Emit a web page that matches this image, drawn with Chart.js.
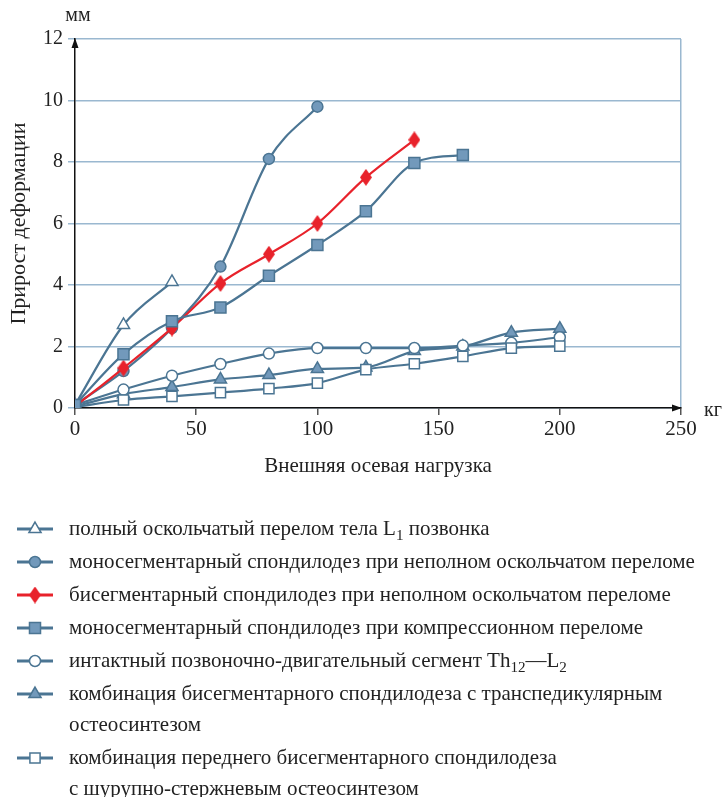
<!DOCTYPE html>
<html>
<head>
<meta charset="utf-8">
<script src="https://cdn.jsdelivr.net/npm/chart.js@4.4.1/dist/chart.umd.min.js"></script>
<style>
    body { margin: 0; background: #fff; font-family: "Liberation Serif", serif; color: #222; }
    #wrap { position: relative; width: 725px; height: 797px; }
    #chart { position: absolute; left: 0; top: 0; }
    #legend { position: absolute; left: 0; top: 513px; width: 725px; }
    .item { display: flex; align-items: flex-start; font-size: 21px; line-height: 31px; margin-bottom: 2px; white-space: nowrap; }
    .item canvas { flex: none; margin: 0 14px 0 15px; }
    sub { font-size: 0.72em; line-height: 0; vertical-align: -0.3em; }
</style>
</head>
<body>
<div id="wrap">
    <canvas id="chart" width="725" height="500"></canvas>
    <div id="legend"></div>
</div>
<script>
// нагрузка, кг
const loadKg = [0, 20, 40, 60, 80, 100, 120, 140, 160, 180, 200];

// прирост деформации, мм
const fullFracture = [0.1, 2.7, 4.1];
const monoIncomplete = [0.1, 1.2, 2.6, 4.6, 8.1, 9.8];
const biIncomplete = [0.05, 1.3, 2.6, 4.05, 5.0, 6.0, 7.5, 8.72];
const monoCompression = [0.1, 1.75, 2.82, 3.27, 4.3, 5.3, 6.4, 7.97, 8.23];
const intact = [0.1, 0.6, 1.05, 1.43, 1.77, 1.95, 1.95, 1.95, 2.03, 2.12, 2.3];
const biTranspedicular = [0.05, 0.45, 0.68, 0.93, 1.07, 1.27, 1.32, 1.85, 2.0, 2.45, 2.58];
const biScrewRod = [0.03, 0.26, 0.38, 0.5, 0.63, 0.81, 1.25, 1.44, 1.68, 1.95, 2.01];

const seriesLabels = [
    "полный оскольчатый перелом тела L<sub>1</sub> позвонка",
    "моносегментарный спондилодез при неполном оскольчатом переломе",
    "бисегментарный спондилодез при неполном оскольчатом переломе",
    "моносегментарный спондилодез при компрессионном переломе",
    "интактный позвоночно-двигательный сегмент Th<sub>12</sub>—L<sub>2</sub>",
    "комбинация бисегментарного спондилодеза с транспедикулярным<br>остеосинтезом",
    "комбинация переднего бисегментарного спондилодеза<br>с шурупно-стержневым остеосинтезом"
];

const xTicks = [0, 50, 100, 150, 200, 250];
const yTicks = [0, 2, 4, 6, 8, 10, 12];

const steel = "#4b7593";
const steelFill = "#7299bb";
const red = "#e8222b";
const gridBlue = "#9ab8d0";

// ромб для бисегментарного
function diamond(w, h) {
    const c = document.createElement("canvas");
    c.width = w; c.height = h;
    const g = c.getContext("2d");
    g.fillStyle = red;
    g.beginPath();
    g.moveTo(w / 2, 0); g.lineTo(w, h / 2); g.lineTo(w / 2, h); g.lineTo(0, h / 2);
    g.closePath();
    g.fill();
    return c;
}

const toPoints = (vals) => vals.map((v, i) => ({ x: loadKg[i], y: v }));

// order: меньше = выше
const styles = [
    { color: steel, style: "triangle", fill: "#fff", r: 7, order: 3 },
    { color: steel, style: "circle", fill: steelFill, r: 5.5, order: 4 },
    { color: red, style: diamond(12, 17), fill: red, r: 8, order: 1 },
    { color: steel, style: "rect", fill: steelFill, r: 7.8, order: 0 },
    { color: steel, style: "circle", fill: "#fff", r: 5.5, order: 5 },
    { color: steel, style: "triangle", fill: steelFill, r: 7, order: 6 },
    { color: steel, style: "rect", fill: "#fff", r: 7.2, order: 2 }
];
const allSeries = [fullFracture, monoIncomplete, biIncomplete, monoCompression, intact, biTranspedicular, biScrewRod];

const datasets = allSeries.map((vals, i) => ({
    label: seriesLabels[i],
    data: toPoints(vals),
    order: styles[i].order,
    borderColor: styles[i].color,
    backgroundColor: styles[i].fill,
    pointStyle: styles[i].style,
    pointRadius: styles[i].r,
    pointBorderColor: styles[i].color,
    pointBorderWidth: 1.5,
    borderWidth: 2.2,
    cubicInterpolationMode: "monotone"
}));

const extras = {
    id: "extras",
    afterDraw(chart) {
        const { ctx, chartArea: a } = chart;
        ctx.save();
        ctx.fillStyle = "#111";
        // стрелки осей
        ctx.beginPath();
        ctx.moveTo(a.left, a.top - 1); ctx.lineTo(a.left - 3.5, a.top + 9); ctx.lineTo(a.left + 3.5, a.top + 9);
        ctx.closePath(); ctx.fill();
        ctx.beginPath();
        ctx.moveTo(a.right + 1, a.bottom); ctx.lineTo(a.right - 9, a.bottom - 3.5); ctx.lineTo(a.right - 9, a.bottom + 3.5);
        ctx.closePath(); ctx.fill();
        // единицы
        ctx.fillStyle = "#222";
        ctx.font = "20px 'Liberation Serif'";
        ctx.textAlign = "center";
        ctx.textBaseline = "middle";
        ctx.fillText("мм", a.left + 3, 16);
        ctx.fillText("кг", a.right + 32, a.bottom + 3);
        ctx.restore();
    }
};

new Chart(document.getElementById("chart"), {
    type: "line",
    data: { datasets },
    plugins: [extras],
    options: {
        responsive: false,
        animation: false,
        layout: { padding: { left: 0, top: 39, right: 44, bottom: 0 } },
        plugins: { legend: { display: false }, tooltip: { enabled: false } },
        scales: {
            x: {
                type: "linear",
                min: 0, max: 250,
                afterFit: (s) => { s.height = 92; },
                afterBuildTicks: (s) => { s.ticks = xTicks.map(v => ({ value: v })); },
                grid: {
                    drawOnChartArea: true,
                    color: (c) => c.tick && c.tick.value === 250 ? gridBlue : "rgba(0,0,0,0)",
                    tickColor: "#555",
                    tickLength: 7,
                    lineWidth: 1.5
                },
                border: { color: "#111", width: 1.5 },
                ticks: { color: "#222", font: { family: "Liberation Serif", size: 21 }, padding: 2 },
                title: {
                    display: true,
                    text: "Внешняя осевая нагрузка",
                    color: "#222",
                    font: { family: "Liberation Serif", size: 21 },
                    padding: { bottom: 21 }
                }
            },
            y: {
                min: 0, max: 12,
                afterFit: (s) => { s.width = 75; },
                afterBuildTicks: (s) => { s.ticks = yTicks.map(v => ({ value: v })); },
                grid: { color: gridBlue, tickColor: gridBlue, tickLength: 7, lineWidth: 1.5 },
                border: { color: "#111", width: 1.5 },
                ticks: { color: "#222", font: { family: "Liberation Serif", size: 20 }, padding: 5 },
                title: {
                    display: true,
                    text: "Прирост деформации",
                    color: "#222",
                    font: { family: "Liberation Serif", size: 22 },
                    padding: { top: 6 }
                }
            }
        }
    }
});

// легенда
const legend = document.getElementById("legend");
datasets.forEach((ds) => {
    const row = document.createElement("div");
    row.className = "item";
    const ic = document.createElement("canvas");
    ic.width = 40; ic.height = 31;
    const g = ic.getContext("2d");
    g.strokeStyle = ds.borderColor;
    g.lineWidth = 3;
    g.beginPath(); g.moveTo(2, 16); g.lineTo(38, 16); g.stroke();
    g.fillStyle = ds.backgroundColor;
    g.strokeStyle = ds.pointBorderColor;
    g.lineWidth = 1.5;
    Chart.helpers.drawPoint(g, { pointStyle: ds.pointStyle, radius: ds.pointRadius, rotation: 0, borderWidth: 1.5 }, 20, 16);
    const txt = document.createElement("div");
    txt.innerHTML = ds.label;
    row.appendChild(ic);
    row.appendChild(txt);
    legend.appendChild(row);
});
</script>
</body>
</html>
